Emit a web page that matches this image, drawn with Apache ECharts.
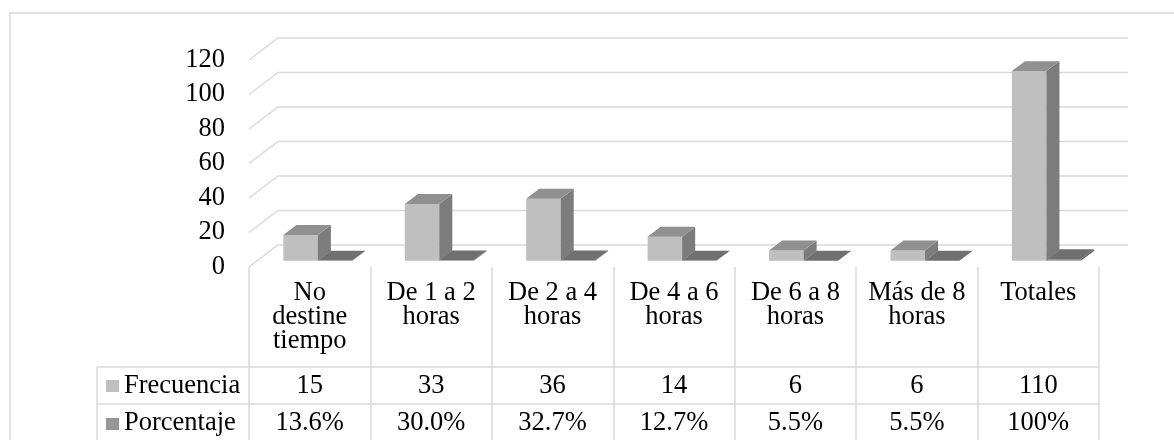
<!DOCTYPE html>
<html>
<head>
<meta charset="utf-8">
<script src="https://cdn.jsdelivr.net/npm/echarts@6/dist/echarts.min.js"></script>
<style>
  html, body { margin: 0; padding: 0; background: #fff; }
  #chart { width: 1174px; height: 440px; }
</style>
</head>
<body>
<div id="chart"></div>
<script>
// datos del gráfico
var categorias = ['No\ndestine\ntiempo', 'De 1 a 2\nhoras', 'De 2 a 4\nhoras', 'De 4 a 6\nhoras', 'De 6 a 8\nhoras', 'Más de 8\nhoras', 'Totales'];
var frecuencia = [15, 33, 36, 14, 6, 6, 110];
var porcentaje = [0.136, 0.300, 0.327, 0.127, 0.055, 0.055, 1.0];
var porcentajeTxt = ['13.6%', '30.0%', '32.7%', '12.7%', '5.5%', '5.5%', '100%'];
var nombres = ['Frecuencia', 'Porcentaje'];
var yTicks = [0, 20, 40, 60, 80, 100, 120];

// efecto 3D (profundidad de la pared)
var DX = 29, DY = -22;
var F0 = 0.28, F1 = 0.73;
var BAR = 0.284;
var FONT = 'Liberation Serif';
var FS = 26.5;
var GRIS = '#d9d9d9';
var colores = [
    {front: '#bfbfbf', side: '#7c7c7c', top: '#909090'},
    {front: '#969696', side: '#5e5e5e', top: '#707070'}
];

function barra(s) {
    return function (params, api) {
        var i = api.value(0), v = api.value(1);
        var base = api.coord([i, 0]);
        var alto = api.coord([i, v]);
        var w = api.size([1, 0])[0] * BAR;
        var xl = base[0] - w + s * w, xr = xl + w;
        var fx = DX * F0, fy = DY * F0, bx = DX * F1, by = DY * F1;
        var c = colores[s];
        return {
            type: 'group',
            children: [
                {type: 'polygon', shape: {points: [[xl + fx, alto[1] + fy], [xr + fx, alto[1] + fy], [xr + fx, base[1] + fy], [xl + fx, base[1] + fy]]}, style: {fill: c.front}},
                {type: 'polygon', shape: {points: [[xr + fx, alto[1] + fy], [xr + bx, alto[1] + by], [xr + bx, base[1] + by], [xr + fx, base[1] + fy]]}, style: {fill: c.side}},
                {type: 'polygon', shape: {points: [[xl + fx, alto[1] + fy], [xl + bx, alto[1] + by], [xr + bx, alto[1] + by], [xr + fx, alto[1] + fy]]}, style: {fill: c.top}}
            ]
        };
    };
}

function rejilla(params, api) {
    var v = api.value(1);
    var p = api.coord([0, v]);
    var band = api.size([1, 0])[0];
    var left = p[0] - band / 2;
    var right = api.coord([categorias.length - 1, v])[0] + band / 2;
    return {
        type: 'polyline',
        shape: {points: [[left, p[1]], [left + DX, p[1] + DY], [right + DX, p[1] + DY]]},
        style: {stroke: GRIS, lineWidth: 1.5, fill: null}
    };
}

var myChart = echarts.init(document.getElementById('chart'));
var txt = {fontFamily: FONT, fontSize: FS, color: '#000'};

myChart.setOption({
    animation: false,
    grid: {left: 249, right: 75, top: 60, bottom: 173},
    xAxis: [
        {
            type: 'category',
            data: categorias,
            axisLine: {show: false},
            axisTick: {show: true, length: 174, lineStyle: {color: GRIS, width: 1.5}},
            axisLabel: Object.assign({interval: 0, margin: 14, lineHeight: 24}, txt)
        },
        {
            type: 'category',
            position: 'bottom',
            data: frecuencia.map(String),
            axisLine: {show: false},
            axisTick: {show: false},
            axisLabel: Object.assign({interval: 0, margin: 119, verticalAlign: 'middle'}, txt)
        },
        {
            type: 'category',
            position: 'bottom',
            data: porcentajeTxt,
            axisLine: {show: false},
            axisTick: {show: false},
            axisLabel: Object.assign({interval: 0, margin: 156, verticalAlign: 'middle'}, txt)
        }
    ],
    yAxis: {
        type: 'value',
        min: 0,
        max: 120,
        interval: 20,
        axisLine: {show: false},
        axisTick: {show: false},
        splitLine: {show: false},
        axisLabel: Object.assign({margin: 24}, txt)
    },
    graphic: [
        {type: 'rect', shape: {x: 10, y: 13, width: 1200, height: 460}, style: {fill: null, stroke: GRIS, lineWidth: 1.5}, silent: true},
        {type: 'line', shape: {x1: 97, y1: 367, x2: 1099, y2: 367}, style: {stroke: GRIS, lineWidth: 1.5}},
        {type: 'line', shape: {x1: 97, y1: 404, x2: 1099, y2: 404}, style: {stroke: GRIS, lineWidth: 1.5}},
        {type: 'line', shape: {x1: 97, y1: 367, x2: 97, y2: 445}, style: {stroke: GRIS, lineWidth: 1.5}},
        {type: 'rect', shape: {x: 106, y: 380, width: 13, height: 12}, style: {fill: colores[0].front}},
        {type: 'rect', shape: {x: 106, y: 418, width: 13, height: 12}, style: {fill: colores[1].front}},
        {type: 'text', x: 124, y: 386, style: {text: nombres[0], verticalAlign: 'middle', fill: '#000', font: FS + 'px ' + FONT}},
        {type: 'text', x: 124, y: 423, style: {text: nombres[1], verticalAlign: 'middle', fill: '#000', font: FS + 'px ' + FONT}}
    ],
    series: [
        {
            type: 'custom',
            renderItem: rejilla,
            data: yTicks.map(function (v) { return [0, v]; }),
            encode: {x: 0, y: 1},
            z: 1,
            silent: true
        },
        {
            name: nombres[1],
            type: 'custom',
            renderItem: barra(1),
            data: porcentaje.map(function (v, i) { return [i, v]; }),
            encode: {x: 0, y: 1},
            z: 3
        },
        {
            name: nombres[0],
            type: 'custom',
            renderItem: barra(0),
            data: frecuencia.map(function (v, i) { return [i, v]; }),
            encode: {x: 0, y: 1},
            z: 4
        }
    ]
});
</script>
</body>
</html>
